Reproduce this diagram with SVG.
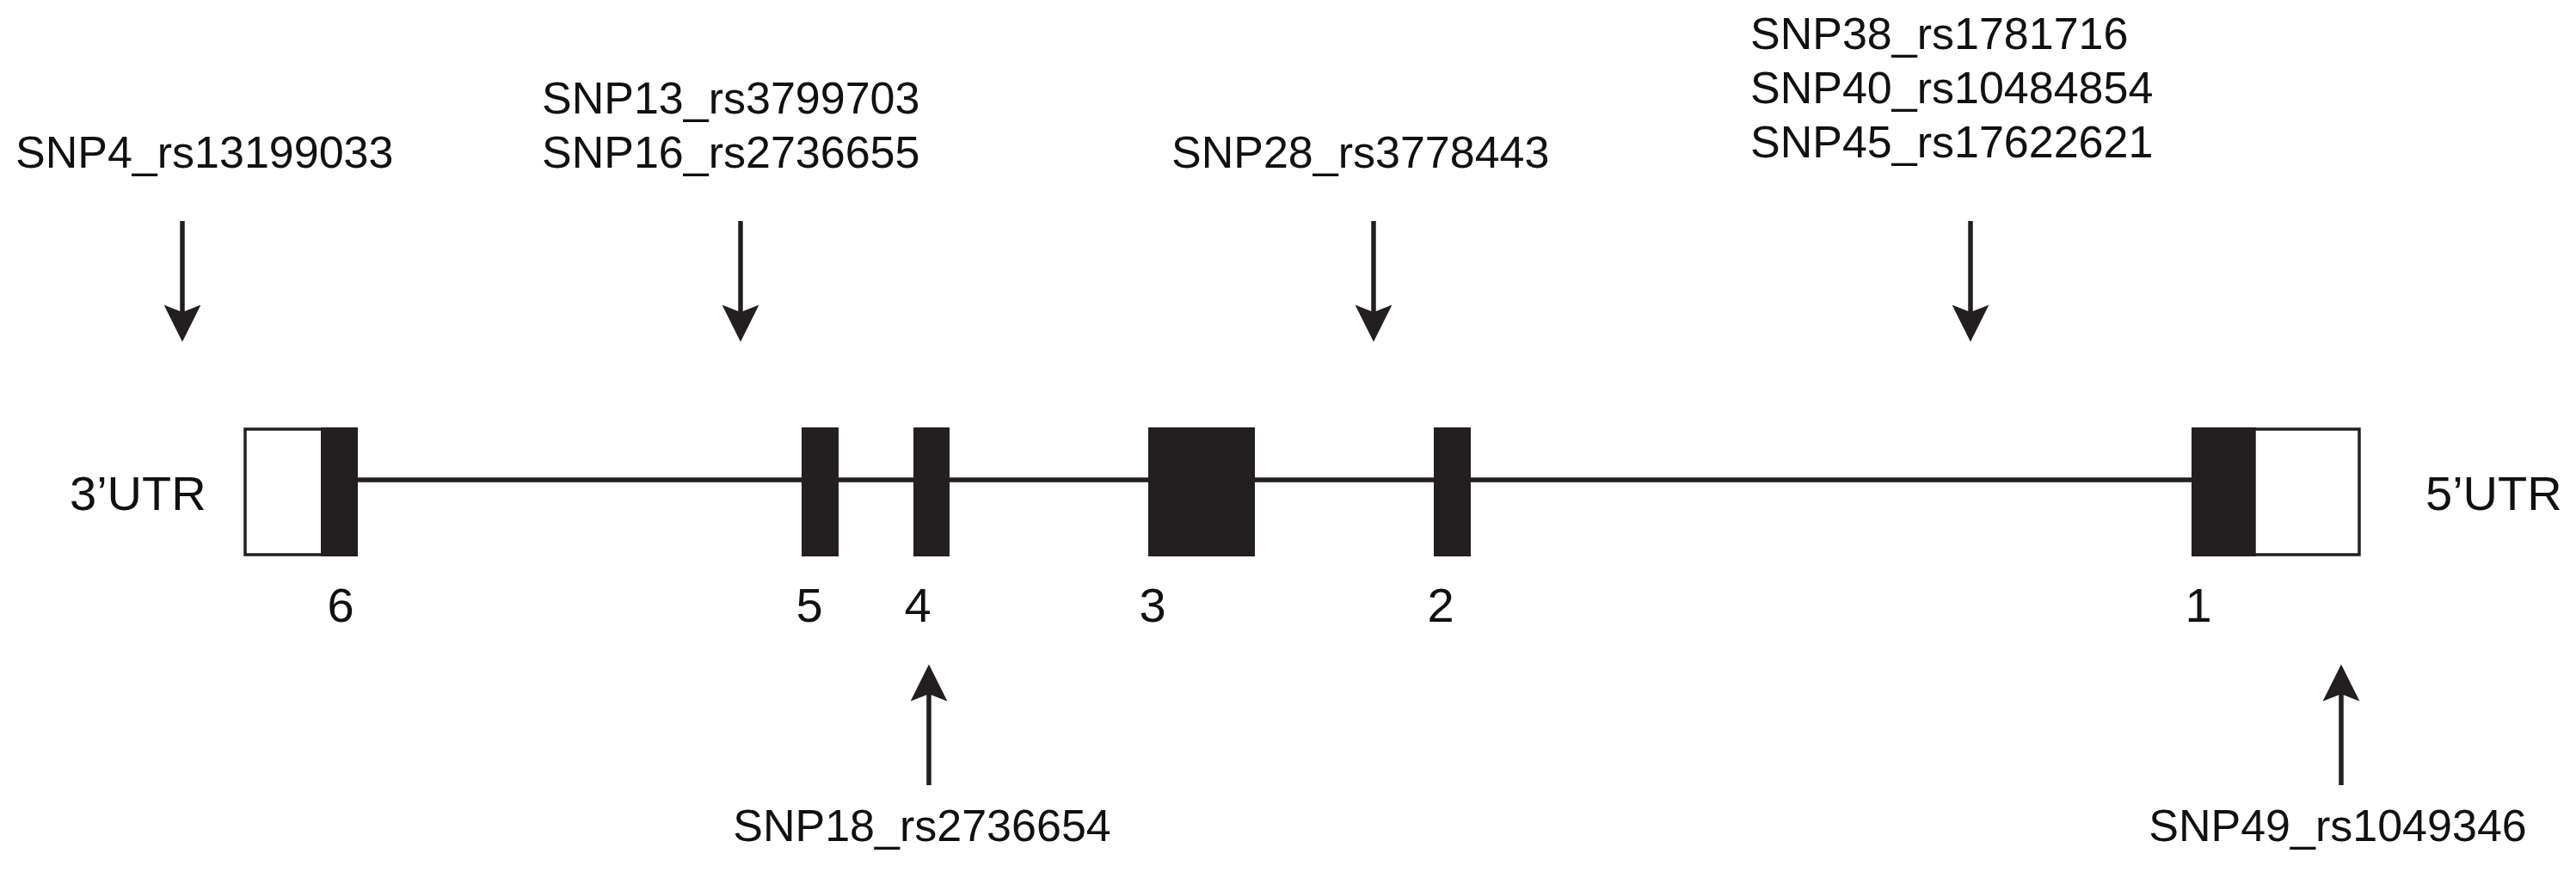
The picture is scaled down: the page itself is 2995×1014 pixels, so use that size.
<svg xmlns="http://www.w3.org/2000/svg" width="2995" height="1014" viewBox="0 0 2995 1014">
<style>
.lbl{font-family:"Liberation Sans",Arial,sans-serif;font-size:52px;fill:#111}
.utr{font-family:"Liberation Sans",Arial,sans-serif;font-size:56px;fill:#111}
.num{font-family:"Liberation Sans",Arial,sans-serif;font-size:56px;fill:#111;text-anchor:middle}
.ex{fill:#231f20}
.utrbox{fill:#fff;stroke:#231f20;stroke-width:3.5}
.intron{stroke:#231f20;stroke-width:5.5;fill:none}
.arr{stroke:#231f20;stroke-width:5.5;fill:none;marker-end:url(#ah)}
</style>
<defs>
<marker id="ah" markerUnits="userSpaceOnUse" markerWidth="44" markerHeight="44" viewBox="0 0 42 42" refX="31" refY="21" orient="auto">
<path d="M0,0.5 L41,21 L0,41.5 L8,21 Z" fill="#231f20"/>
</marker>
</defs>
<rect width="2995" height="1014" fill="#fff"/>
<g id="connectors">
<line class="intron" x1="416" y1="558" x2="2548" y2="558"/>
<line class="arr" x1="212" y1="257" x2="212" y2="387"/>
<line class="arr" x1="861" y1="257" x2="861" y2="387"/>
<line class="arr" x1="1597" y1="257" x2="1597" y2="387"/>
<line class="arr" x1="2291" y1="257" x2="2291" y2="387"/>
<line class="arr" x1="1080" y1="913" x2="1080" y2="783"/>
<line class="arr" x1="2722" y1="913" x2="2722" y2="783"/>
</g>
<g id="utr3">
<rect class="utrbox" x="285" y="499" width="90" height="146"/>
<text class="utr" x="81" y="593">3’UTR</text>
</g>
<g id="exon6">
<rect class="ex" x="373" y="497" width="43" height="150"/>
<text class="num" x="396" y="723">6</text>
</g>
<g id="exon5">
<rect class="ex" x="932" y="497" width="43" height="150"/>
<text class="num" x="941" y="723">5</text>
</g>
<g id="exon4">
<rect class="ex" x="1062" y="497" width="42" height="150"/>
<text class="num" x="1067" y="723">4</text>
</g>
<g id="exon3">
<rect class="ex" x="1335" y="497" width="124" height="150"/>
<text class="num" x="1340" y="723">3</text>
</g>
<g id="exon2">
<rect class="ex" x="1667" y="497" width="43" height="150"/>
<text class="num" x="1675" y="723">2</text>
</g>
<g id="exon1">
<rect class="ex" x="2548" y="497" width="75" height="150"/>
<text class="num" x="2556" y="723">1</text>
</g>
<g id="utr5">
<rect class="utrbox" x="2621" y="499" width="122" height="146"/>
<text class="utr" x="2820" y="593">5’UTR</text>
</g>
<g id="snp4">
<text class="lbl" x="18" y="195">SNP4_rs13199033</text>
</g>
<g id="snp13_16">
<text class="lbl" x="630" y="132">SNP13_rs3799703</text>
<text class="lbl" x="630" y="195">SNP16_rs2736655</text>
</g>
<g id="snp28">
<text class="lbl" x="1362" y="195">SNP28_rs3778443</text>
</g>
<g id="snp38_40_45">
<text class="lbl" x="2035" y="57">SNP38_rs1781716</text>
<text class="lbl" x="2035" y="120">SNP40_rs10484854</text>
<text class="lbl" x="2035" y="183">SNP45_rs17622621</text>
</g>
<g id="snp18">
<text class="lbl" x="1072" y="978" text-anchor="middle">SNP18_rs2736654</text>
</g>
<g id="snp49">
<text class="lbl" x="2718" y="978" text-anchor="middle">SNP49_rs1049346</text>
</g>
</svg>
